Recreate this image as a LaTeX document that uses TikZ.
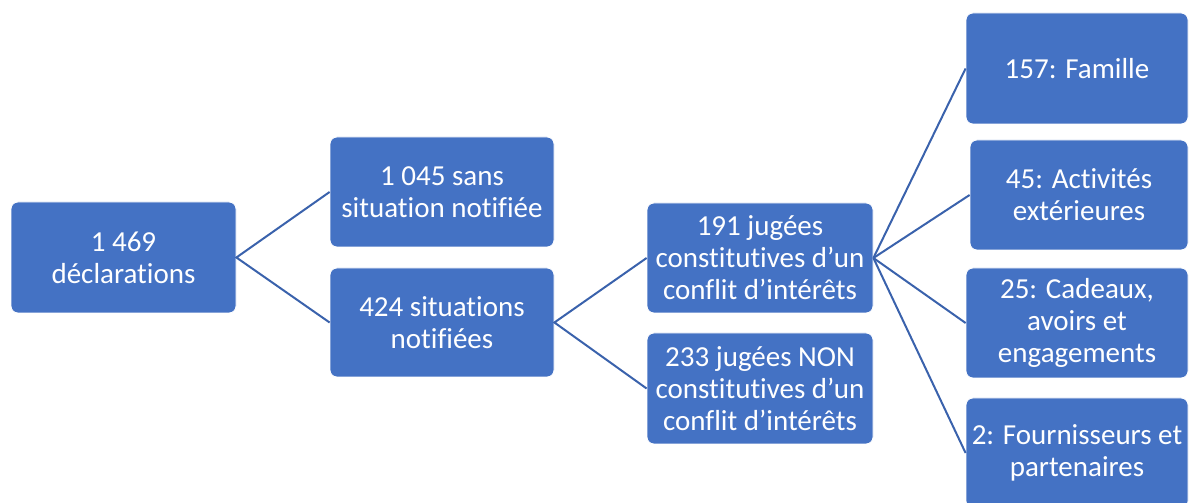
\documentclass[tikz,border=0pt]{standalone}
\usepackage{fontspec}
\setmainfont{Carlito}[Ligatures={NoCommon}]
\definecolor{boxblue}{HTML}{4472C4}
\definecolor{linkblue}{HTML}{3A62AC}
\begin{document}
\begin{tikzpicture}[x=1pt,y=1pt,
  box/.style={draw=white,line width=0.8pt,fill=boxblue,rounded corners=7pt,text=white,
    align=center,inner sep=2pt,font=\fontsize{29}{32}\selectfont},
  link/.style={draw=linkblue,line width=2pt}]
\useasboundingbox (0,0) rectangle (1189,503);
\node[box,minimum width=225pt,minimum height=111pt] (b1) at (123.5,245.5) {1 469\\déclarations};
\node[box,minimum width=224pt,minimum height=110pt] (b2) at (442,311) {1 045 sans\\situation notifiée};
\node[box,minimum width=224pt,minimum height=109pt] (b3) at (442,180.5) {424 situations\\notifiées};
\node[box,minimum width=226pt,minimum height=110pt] (b4) at (760,245) {191 jugées\\constitutives d’un\\conflit d’intérêts};
\node[box,minimum width=226pt,minimum height=111pt] (b5) at (760,114.5) {233 jugées NON\\constitutives d’un\\conflit d’intérêts};
\node[box,minimum width=222pt,minimum height=111pt] (b6) at (1077,434.5) {157: Famille};
\node[box,minimum width=218pt,minimum height=110pt] (b7) at (1079,308) {45: Activités\\extérieures};
\node[box,minimum width=222pt,minimum height=110pt] (b8) at (1077,180) {25: Cadeaux,\\avoirs et\\engagements};
\node[box,minimum width=222pt,minimum height=110pt] (b9) at (1077,50) {2: Fournisseurs et\\partenaires};
\draw[link] (b2.west) -- (b1.east) -- (b3.west);
\draw[link] (b4.west) -- (b3.east) -- (b5.west);
\draw[link] (b4.east) -- (b6.west);
\draw[link] (b4.east) -- (b7.west);
\draw[link] (b4.east) -- (b8.west);
\draw[link] (b4.east) -- (b9.west);
\end{tikzpicture}
\end{document}
